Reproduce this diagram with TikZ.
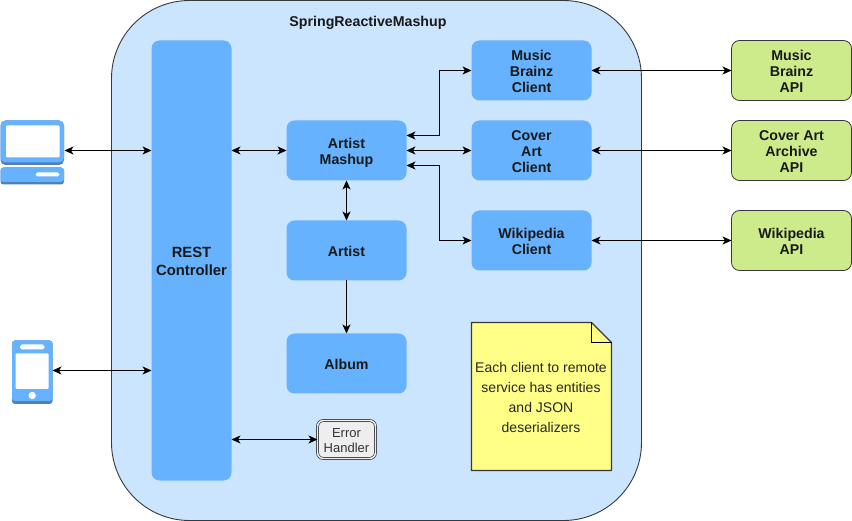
\documentclass[tikz,border=0pt]{standalone}
\usepackage{fontspec}
\setmainfont{Liberation Sans}
\usetikzlibrary{arrows.meta,calc}
\definecolor{outerfill}{HTML}{CCE5FF}
\definecolor{boxblue}{HTML}{66B2FF}
\definecolor{darkblue}{HTML}{4D82B8}
\definecolor{stroke}{HTML}{36393D}
\definecolor{apigreen}{HTML}{CDEB8B}
\definecolor{notey}{HTML}{FFFF88}
\definecolor{errfill}{HTML}{EEEEEE}
\newcommand{\lblstrut}{\rule[0pt]{0pt}{17pt}}
\newcommand{\lowstrut}{\rule[0pt]{0pt}{15pt}}
\newcommand{\deepstrut}{\rule[-4pt]{0pt}{4pt}}
\tikzset{
  x=1pt,y=-1pt,
  base/.style={inner sep=0pt,outer sep=0pt,align=center,font=\fontsize{14.2}{16}\selectfont\bfseries,text=black!90,execute at end node=\deepstrut},
  inbox/.style={base,fill=boxblue,rounded corners=8pt,minimum width=120pt,minimum height=60pt},
  apibox/.style={base,draw=stroke,line width=.8pt,fill=apigreen,rounded corners=8pt,minimum width=120pt,minimum height=60pt},
  conn/.style={line width=.9pt,black,{Stealth[length=9pt,width=8pt,inset=2.5pt]}-{Stealth[length=9pt,width=8pt,inset=2.5pt]}},
  oneway/.style={line width=.9pt,black,-{Stealth[length=9pt,width=8pt,inset=2.5pt]}},
}
\begin{document}
\begin{tikzpicture}
\useasboundingbox (0,0) rectangle (852,521);
\begin{scope}[shift={(0.5,0.5)}]
\node[base,draw=stroke,line width=.9pt,fill=outerfill,rounded corners=78pt,minimum width=530pt,minimum height=520pt] (outer) at (376,260) {};
\node[base] (title) at (367.5,20) {\lblstrut SpringReactiveMashup};
\node[inbox,minimum width=80pt,minimum height=440pt,font=\fontsize{14.8}{18}\selectfont\bfseries] (rest) at (191,260) {\lblstrut REST\\Controller};
\node[inbox] (mash) at (346,150) {\lblstrut Artist\\Mashup};
\node[inbox] (artist) at (346,250) {\lblstrut Artist};
\node[inbox] (album) at (346,363) {\lblstrut Album};
\node[inbox] (cmusic) at (531,70) {\lblstrut Music\\Brainz\\Client};
\node[inbox] (ccover) at (531,150) {\lblstrut Cover\\Art\\Client};
\node[inbox] (cwiki) at (531,240) {\lblstrut Wikipedia\\Client};
\node[apibox] (amusic) at (791,70) {\lblstrut Music\\Brainz\\API};
\node[apibox] (acover) at (791,150) {\lblstrut Cover Art\\Archive\\API};
\node[apibox] (awiki) at (791,240) {\lblstrut Wikipedia\\API};
% error handler
\node[base,draw=stroke,line width=.7pt,double=errfill,double distance=1.4pt,fill=errfill,rounded corners=6pt,minimum width=58pt,minimum height=38pt,font=\fontsize{13}{14.5}\selectfont,text=black!80] (err) at (346,439) {\lowstrut Error\\Handler};
% note
\fill[notey,draw=stroke,line width=1.1pt] (471,322) -- (591,322) -- (611,342) -- (611,470) -- (471,470) -- cycle;
\draw[stroke,line width=1.1pt] (591,322) -- (591,342) -- (611,342);
\node[base,font=\fontsize{14}{20}\selectfont,text=black!85] (note) at (540.5,396) {\lowstrut Each client to remote\\service has entities\\and JSON\\deserializers};
% laptop
\node[inner sep=0pt,outer sep=0pt,minimum width=64pt,minimum height=64pt] (laptop) at (32,152) {};
\fill[darkblue,rounded corners=5pt] (0,120) rectangle (63.5,164.5);
\fill[boxblue,rounded corners=5pt] (0,120) rectangle (63.5,162);
\fill[white,rounded corners=1pt] (5.5,125) rectangle (59,157);
\fill[darkblue,rounded corners=3pt] (0,167) rectangle (63.5,184);
\fill[boxblue,rounded corners=3pt] (0,167) rectangle (63.5,181.5);
\fill[white,rounded corners=1.8pt] (35,172) rectangle (59,176);
% phone
\node[inner sep=0pt,outer sep=0pt,minimum width=41pt,minimum height=64pt] (phone) at (31.5,372) {};
\fill[darkblue,rounded corners=3pt] (11.5,340) rectangle (52,403.5);
\fill[boxblue,rounded corners=3pt] (11.5,340) rectangle (52,400.5);
\fill[white,rounded corners=1.8pt] (19.5,344) rectangle (44,349);
\fill[white,rounded corners=1pt] (15,353) rectangle (48,388.5);
\fill[white] (31.7,395) circle (3.7pt);
% connectors
\draw[conn] (laptop.east |- 0,150) -- (rest.west |- 0,150);
\draw[conn] (phone.east |- 0,370) -- (rest.west |- 0,370);
\draw[conn] (rest.east |- mash.east) -- (mash.west);
\draw[conn] (rest.east |- err.west) -- (err.west);
\draw[conn] (mash.south) -- (artist.north);
\draw[oneway] (artist.south) -- (album.north);
\draw[conn] ([yshift=15pt]mash.east) -| (439,70) -- (cmusic.west);
\draw[conn] (mash.east) -- (ccover.west);
\draw[conn] ([yshift=-15pt]mash.east) -| (439,240) -- (cwiki.west);
\draw[conn] (cmusic.east) -- (amusic.west);
\draw[conn] (ccover.east) -- (acover.west);
\draw[conn] (cwiki.east) -- (awiki.west);
\end{scope}
\end{tikzpicture}
\end{document}
